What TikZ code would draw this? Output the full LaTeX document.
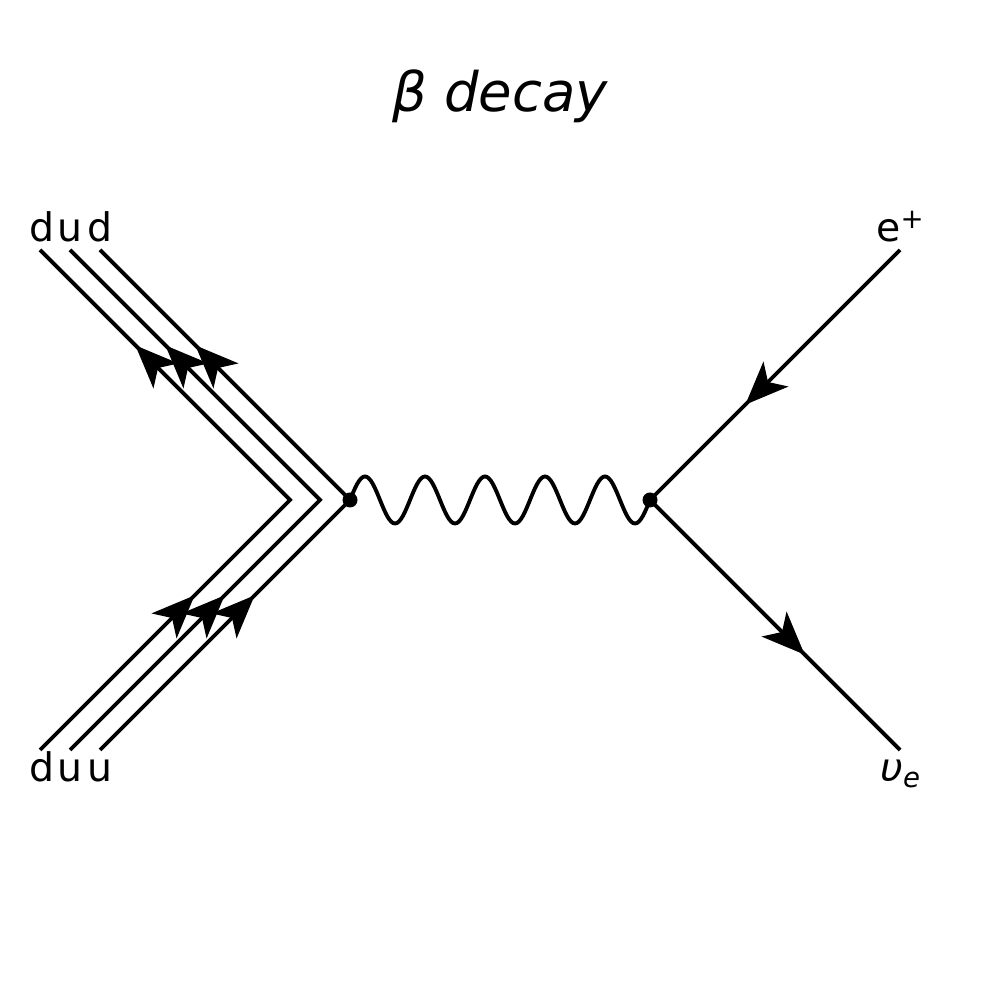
\documentclass[tikz,border=0pt]{standalone}
\usepackage{fontspec}
\setmainfont{DejaVu Sans}
\usepackage{tikz}
\usetikzlibrary{arrows.meta,decorations.markings}
\tikzset{
	fermion tip/.tip={Stealth[length=4.3mm,width=3.5mm,inset=1.1mm]},
	vertex/.style={circle, fill, inner sep=0pt, minimum size=1.5mm},
	fermion/.style={postaction={decorate}, decoration={markings, mark=at position 0.62 with {\arrow{fermion tip}}}},
	quark/.style={postaction={decorate}, decoration={markings, mark=at position 0.31 with {\arrow{fermion tip}}, mark=at position 0.81 with {\arrow{fermion tip}}}},% one arrow on each leg of the bent line
	lbl/.style={inner sep=0pt, anchor=base, font=\fontsize{11.2}{13}\selectfont},
	title/.style={inner sep=0pt, anchor=base, font=\fontsize{15.5}{18}\selectfont\itshape}
}

\begin{document}
\begin{tikzpicture}[line width=1.1pt]
	\useasboundingbox (0,0) rectangle (10,10);
	\node[title] (title) at (5,8.88) {β decay};
	% vertices
	\node[vertex] (v1) at (3.5,5) {};
	\node[vertex] (v2) at (6.5,5) {};
	% ends and bends of the quark lines
	\coordinate (in1) at (0.4,2.5);
	\coordinate (in2) at (0.7,2.5);
	\coordinate (in3) at (1.0,2.5);
	\coordinate (out1) at (0.4,7.5);
	\coordinate (out2) at (0.7,7.5);
	\coordinate (out3) at (1.0,7.5);
	\coordinate (k1) at (2.9,5);
	\coordinate (k2) at (3.2,5);
	\coordinate (ep) at (9,7.5);
	\coordinate (nue) at (9,2.5);
	\draw[quark] (in1) -- (k1) -- (out1);
	\draw[quark] (in2) -- (k2) -- (out2);
	\draw[quark] (in3) -- (v1.center) -- (out3);
	% photon: five full periods from v1 to v2
	\draw (v1.center) \foreach \i in {1,...,5} {sin ++(0.15,0.235) cos ++(0.15,-0.235) sin ++(0.15,-0.235) cos ++(0.15,0.235)};
	\draw[fermion] (ep) -- (v2.center);
	\draw[fermion] (v2.center) -- (nue);
	% labels
	\node[lbl] (lo1) at (0.42,7.58) {d};
	\node[lbl] (lo2) at (0.7,7.58) {u};
	\node[lbl] (lo3) at (1.0,7.58) {d};
	\node[lbl] (li1) at (0.42,2.18) {d};
	\node[lbl] (li2) at (0.7,2.18) {u};
	\node[lbl] (li3) at (1.0,2.18) {u};
	\node[lbl] (lep) at (9.01,7.58) {e\textsuperscript{+}};
	\node[lbl] (lnue) at (9.01,2.18) {\itshape υ\textsubscript{e}};
\end{tikzpicture}
\end{document}
